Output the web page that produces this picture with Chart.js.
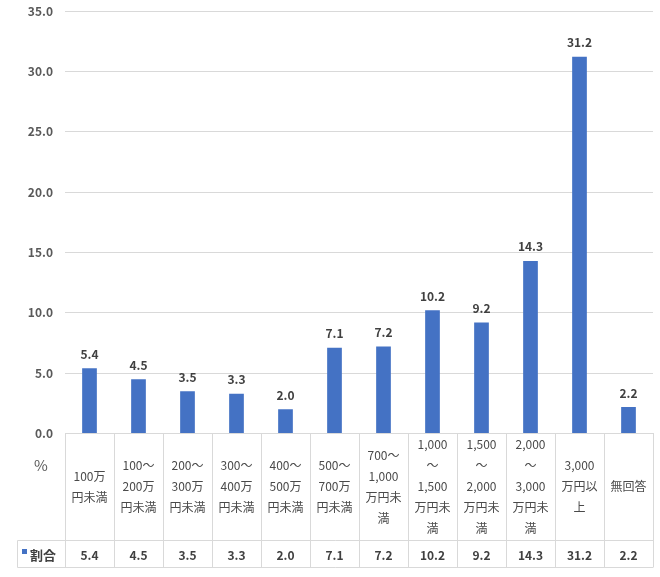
<!DOCTYPE html>
<html>
<head>
<meta charset="utf-8">
<script src="https://cdn.jsdelivr.net/npm/chart.js@4/dist/chart.umd.min.js"></script>
<style>
  html, body { margin: 0; padding: 0; background: #fff; }
  #wrap { width: 660px; height: 577px; position: relative; }
</style>
</head>
<body>
<div id="wrap"><canvas id="chart"></canvas></div>
<script>
const categories = [
  ["100万", "円未満"],
  ["100～", "200万", "円未満"],
  ["200～", "300万", "円未満"],
  ["300～", "400万", "円未満"],
  ["400～", "500万", "円未満"],
  ["500～", "700万", "円未満"],
  ["700～", "1,000", "万円未", "満"],
  ["1,000", "～", "1,500", "万円未", "満"],
  ["1,500", "～", "2,000", "万円未", "満"],
  ["2,000", "～", "3,000", "万円未", "満"],
  ["3,000", "万円以", "上"],
  ["無回答"]
];
const seriesName = "割合";
const values = [5.4, 4.5, 3.5, 3.3, 2.0, 7.1, 7.2, 10.2, 9.2, 14.3, 31.2, 2.2];
const yTicks = [0, 5, 10, 15, 20, 25, 30, 35];
const unitLabel = "%";

const FONT = "'Noto Sans CJK JP', 'Noto Sans', sans-serif";
const BLUE = "#4472C4";
const LINE = "#d9d9d9";

// draws the value labels, the data table under the axis, and the "%" mark
const tablePlugin = {
  id: "tablePlugin",
  afterDraw(chart) {
    const ctx = chart.ctx;
    const area = chart.chartArea;
    const xs = chart.scales.x;
    const meta = chart.getDatasetMeta(0);
    const n = categories.length;
    const colW = area.width / n;
    const rowTop = 540.5;
    const tableBottom = 567.5;
    const tableLeft = 17.5;

    ctx.save();
    // value labels above bars
    ctx.font = "bold 12px " + FONT;
    ctx.fillStyle = "#404040";
    ctx.textAlign = "center";
    ctx.textBaseline = "middle";
    meta.data.forEach((bar, i) => {
      ctx.fillText(values[i].toFixed(1), bar.x, bar.y - 14);
    });

    // table lines
    ctx.strokeStyle = LINE;
    ctx.lineWidth = 1;
    ctx.beginPath();
    for (let i = 0; i <= n; i++) {
      const x = Math.round(area.left + i * colW) + 0.5;
      ctx.moveTo(x, area.bottom);
      ctx.lineTo(x, tableBottom);
    }
    ctx.moveTo(tableLeft, rowTop);
    ctx.lineTo(area.right, rowTop);
    ctx.moveTo(tableLeft, tableBottom);
    ctx.lineTo(area.right, tableBottom);
    ctx.moveTo(tableLeft, rowTop);
    ctx.lineTo(tableLeft, tableBottom);
    ctx.stroke();

    // value row
    const rowMid = (rowTop + tableBottom) / 2 + 1;
    ctx.font = "bold 12px " + FONT;
    ctx.fillStyle = "#404040";
    values.forEach((v, i) => {
      ctx.fillText(v.toFixed(1), xs.getPixelForValue(i), rowMid);
    });

    // legend key in table
    ctx.fillStyle = BLUE;
    ctx.fillRect(22, rowMid - 6, 5, 5);
    ctx.fillStyle = "#404040";
    ctx.font = "bold 13px " + FONT;
    ctx.textAlign = "left";
    ctx.fillText(seriesName, 30, rowMid);

    // unit
    ctx.textAlign = "center";
    ctx.fillStyle = "#595959";
    ctx.font = "15px " + FONT;
    ctx.fillText(unitLabel, 41, 465);
    ctx.restore();
  }
};

new Chart(document.getElementById("chart"), {
  type: "bar",
  data: {
    labels: categories,
    datasets: [{
      label: seriesName,
      data: values,
      backgroundColor: BLUE,
      barPercentage: 0.3,
      categoryPercentage: 1.0
    }]
  },
  options: {
    responsive: true,
    maintainAspectRatio: false,
    animation: false,
    layout: { padding: { top: 11, right: 7, left: 0, bottom: 0 } },
    plugins: {
      legend: { display: false },
      tooltip: { enabled: false }
    },
    scales: {
      x: {
        grid: { display: false },
        border: { display: true, color: LINE },
        ticks: {
          autoSkip: false,
          maxRotation: 0,
          padding: 3,
          crossAlign: "center",
          color: "#4a4a4a",
          font: { family: FONT, size: 12, lineHeight: 1.75 }
        },
        afterFit(scale) { scale.height = 143.5; }
      },
      y: {
        min: 0,
        max: 35,
        afterBuildTicks(scale) { scale.ticks = yTicks.map(v => ({ value: v })); },
        grid: { color: LINE, drawTicks: false },
        border: { display: false },
        ticks: {
          padding: 12,
          color: "#595959",
          font: { family: FONT, size: 12, weight: "bold" },
          callback: v => Number(v).toFixed(1)
        },
        afterFit(scale) {
          scale.width = 65;
          scale.paddingTop = 0;
          scale.paddingBottom = 0;
        }
      }
    }
  },
  plugins: [tablePlugin]
});
</script>
</body>
</html>
